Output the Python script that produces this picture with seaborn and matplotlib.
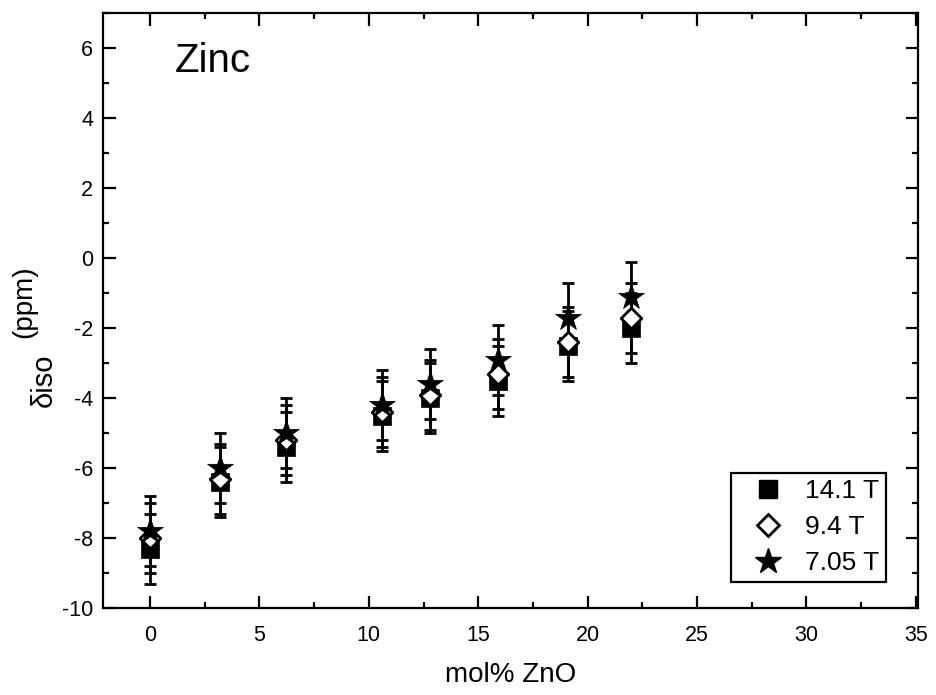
import matplotlib
matplotlib.use("Agg")
import matplotlib.pyplot as plt
import seaborn as sns
import pandas as pd
from matplotlib.ticker import MultipleLocator
from matplotlib.lines import Line2D

sns.set_theme(style="ticks")
plt.rcParams['font.family'] = ['Liberation Sans', 'DejaVu Sans']
plt.rcParams['text.color'] = 'black'
plt.rcParams['axes.labelcolor'] = 'black'
plt.rcParams['axes.unicode_minus'] = False

mol_zno = [0, 3.2, 6.2, 10.6, 12.8, 15.9, 19.1, 22.0]
shift_14_1 = [-8.3, -6.4, -5.4, -4.5, -4.0, -3.5, -2.5, -2.0]
shift_9_4 = [-8.0, -6.3, -5.2, -4.4, -3.9, -3.3, -2.4, -1.7]
shift_7_05 = [-7.8, -6.0, -5.0, -4.2, -3.6, -2.9, -1.7, -1.1]
err = [1.0] * 8
series_names = ["14.1 T", "9.4 T", "7.05 T"]

df = pd.concat([
    pd.DataFrame({"x": mol_zno, "y": v, "err": err, "field": n})
    for v, n in zip([shift_14_1, shift_9_4, shift_7_05], series_names)
])

W, H = 936, 695
fig = plt.figure(figsize=(W / 100, H / 100), dpi=100)
ax = fig.add_axes([103 / W, 1 - 608 / H, (918 - 103) / W, (608 - 13) / H])

markers = {"14.1 T": "s", "9.4 T": "D", "7.05 T": "*"}
sizes = {"14.1 T": 170, "9.4 T": 110, "7.05 T": 380}
for n in series_names:
    d = df[df.field == n]
    ax.errorbar(d.x, d.y, yerr=d.err, fmt="none", ecolor="black",
                elinewidth=2, capsize=4.5, capthick=2, zorder=2)
    fc = "white" if n == "9.4 T" else "black"
    sns.scatterplot(data=d, x="x", y="y", marker=markers[n], s=sizes[n],
                    color=fc, edgecolor="black",
                    linewidth=2 if n == "9.4 T" else 0.5,
                    ax=ax, zorder=3, legend=False)

ax.set_xlim(-2.15, 35.1)
ax.set_ylim(-10, 7)
ax.xaxis.set_major_locator(MultipleLocator(5))
ax.xaxis.set_minor_locator(MultipleLocator(2.5))
ax.yaxis.set_major_locator(MultipleLocator(2))
ax.yaxis.set_minor_locator(MultipleLocator(1))
ax.tick_params(which="both", direction="in", top=True, right=True, width=1.6,
               labelsize=15.5, colors="black")
ax.tick_params(which="major", length=9)
ax.tick_params(which="minor", length=4.5)
ax.tick_params(axis="x", pad=12)
ax.tick_params(axis="y", pad=7)
for s in ax.spines.values():
    s.set_linewidth(1.6)
    s.set_color("black")

ax.set_xlabel("mol% ZnO", fontsize=20, labelpad=12)
ax.set_ylabel("")
fig.text(52 / W, 1 - 407 / H, "\u03b4iso", rotation=90, rotation_mode="anchor",
         ha="left", va="baseline", fontsize=21)
fig.text(31 / W, 1 - 338 / H, "(ppm)", rotation=90, rotation_mode="anchor",
         ha="left", va="baseline", fontsize=20)
fig.text(175 / W, 1 - 72 / H, "Zinc", ha="left", va="baseline", fontsize=29)

handles = [
    Line2D([], [], marker="s", color="black", linestyle="none", markersize=13),
    Line2D([], [], marker="D", markerfacecolor="white", markeredgecolor="black",
           markeredgewidth=2, linestyle="none", markersize=11),
    Line2D([], [], marker="*", color="black", linestyle="none", markersize=19),
]
leg = ax.legend(handles, series_names, loc="lower right", fontsize=19,
                frameon=True, fancybox=False, edgecolor="black",
                handletextpad=0.3, borderpad=0.25, labelspacing=0.46,
                handlelength=2.25, borderaxespad=0,
                bbox_to_anchor=((886 - 103) / (918 - 103), (608 - 582) / (608 - 13)))
leg.get_frame().set_linewidth(1.6)
leg.get_frame().set_alpha(1)

fig.savefig("out.png", dpi=100)
